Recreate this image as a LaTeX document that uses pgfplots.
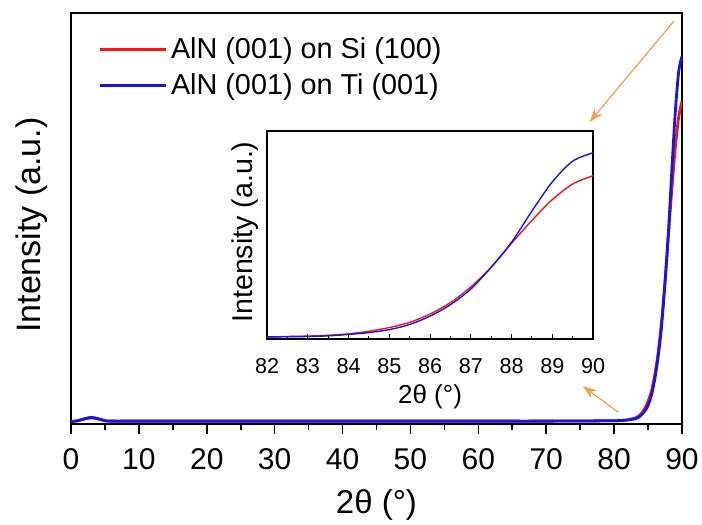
\documentclass[border=0pt]{standalone}
\usepackage{fontspec}
\setmainfont{Liberation Sans}
\usepackage{pgfplots}
\pgfplotsset{compat=1.18}
\usepackage{pgfplotstable}
\usetikzlibrary{arrows.meta}

\definecolor{arrowor}{RGB}{238,162,80}
\definecolor{cred}{RGB}{250,20,20}
\definecolor{cblue}{RGB}{20,20,235}

% AlN (001) on Si (100)
\pgfplotstableread{
x y
0 0.006
1 0.008
2 0.012
3 0.015
4 0.012
5 0.008
6 0.007
10 0.007
20 0.007
30 0.007
40 0.007
50 0.007
60 0.007
70 0.007
80 0.008
82 0.010
82.5 0.012
83 0.014
83.5 0.018
84 0.025
84.5 0.037
85 0.055
85.5 0.080
86 0.120
86.5 0.175
87 0.250
87.5 0.345
88 0.460
88.5 0.570
89 0.670
89.5 0.745
90 0.785
}\tblSi

% AlN (001) on Ti (001)
\pgfplotstableread{
x y
0 0.006
1 0.008
2 0.013
3 0.016
4 0.013
5 0.008
6 0.007
10 0.007
20 0.007
30 0.007
40 0.007
50 0.007
60 0.007
70 0.007
80 0.008
82 0.010
82.5 0.011
83 0.012
83.5 0.015
84 0.022
84.5 0.031
85 0.045
85.5 0.070
86 0.110
86.5 0.165
87 0.240
87.5 0.345
88 0.465
88.5 0.615
89 0.755
89.5 0.855
90 0.895
}\tblTi

\begin{document}
\begin{tikzpicture}
\useasboundingbox (-35.5pt,-50.5pt) rectangle (315.5pt,212pt);

% main axis
\begin{axis}[
    at={(0pt,0pt)}, anchor=south west,
    scale only axis, width=305.5pt, height=205.5pt,
    xmin=0, xmax=90, ymin=0, ymax=1,
    xtick={0,10,...,90}, minor x tick num=1,
    ytick=\empty,
    xtick pos=bottom, tick align=outside,
    major tick length=5pt, minor tick length=3pt,
    axis line style={line width=1pt},
    every tick/.style={black, line width=0.8pt},
    /pgf/number format/assume math mode=true,
    xticklabel style={font=\fontsize{15}{17}\selectfont, yshift=-3.5pt},
    xlabel={2θ (°)}, ylabel={Intensity (a.u.)},
    xlabel style={at={(axis description cs:0.5,-0.197)}, anchor=center, font=\fontsize{16.5}{18}\selectfont},
    ylabel style={at={(axis description cs:-0.064,0.484)}, anchor=center, font=\fontsize{17}{19}\selectfont},
    legend cell align=left,
    legend style={draw=none, fill=none, at={(0.035,0.96)}, anchor=north west,
        font=\fontsize{14.4}{16}\selectfont, row sep=2pt},
    legend image code/.code={\draw[#1] (0cm,0cm) -- (1.15cm,0cm);},
]
\addplot[cred, line width=1.4pt, smooth] table {\tblSi};
\addplot[cblue, line width=1.4pt, smooth] table {\tblTi};
\legend{AlN (001) on Si (100), AlN (001) on Ti (001)}
\draw[arrowor, line width=0.6pt, -{Stealth[length=7pt,width=5pt]}] (axis cs:88.8,0.98) -- (axis cs:76.4,0.735);
\draw[arrowor, line width=0.6pt, -{Stealth[length=7pt,width=5pt]}] (axis cs:80.6,0.029) -- (axis cs:75.4,0.092);
\end{axis}

% inset
\begin{axis}[
    at={(98pt,42.5pt)}, anchor=south west,
    scale only axis, width=163pt, height=104pt,
    xmin=82, xmax=90, ymin=0, ymax=1,
    xtick={82,...,90}, minor x tick num=1,
    ytick=\empty,
    xtick pos=bottom, tick align=inside,
    major tick length=2.5pt, minor tick length=1.5pt,
    axis line style={line width=0.6pt},
    every tick/.style={black, line width=0.5pt},
    /pgf/number format/assume math mode=true,
    xticklabel style={font=\fontsize{10.8}{12}\selectfont, yshift=-6pt},
    xlabel={2θ (°)}, ylabel={Intensity (a.u.)},
    xlabel style={at={(axis description cs:0.5,-0.279)}, anchor=center, font=\fontsize{13}{15}\selectfont},
    ylabel style={at={(axis description cs:-0.0675,0.514)}, anchor=center, font=\fontsize{14.3}{16}\selectfont},
]
\addplot[cred, line width=0.7pt, smooth] table {\tblSi};
\addplot[cblue, line width=0.7pt, smooth] table {\tblTi};
\end{axis}
\end{tikzpicture}
\end{document}
